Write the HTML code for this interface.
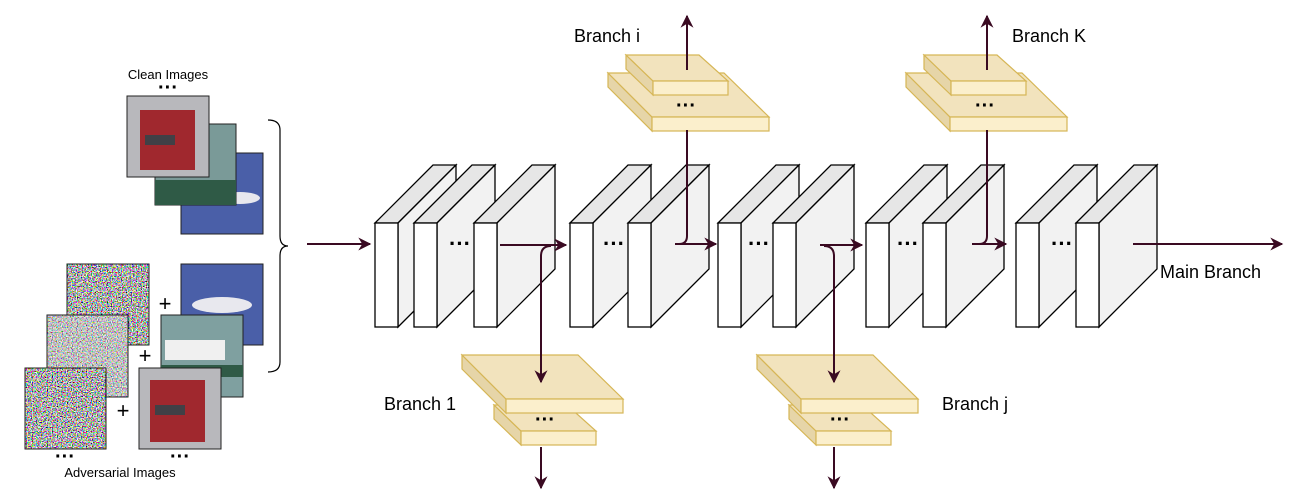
<!DOCTYPE html>
<html><head><meta charset="utf-8"><style>
html,body{margin:0;padding:0;background:#fff;}
svg{display:block}
text{font-family:"Liberation Sans",sans-serif;fill:#000}
</style></head><body>
<svg width="1295" height="494" viewBox="0 0 1295 494" xmlns="http://www.w3.org/2000/svg">
<defs>
<marker id="ah" viewBox="0 0 10 10" refX="9" refY="5" markerWidth="15" markerHeight="13" markerUnits="userSpaceOnUse" orient="auto"><path d="M0,0 L10,5 L0,10 L3,5 Z" fill="#3a0a22"/></marker>
<filter id="nz" x="0" y="0" width="100%" height="100%"><feTurbulence type="fractalNoise" baseFrequency="0.8" numOctaves="1" seed="3"/><feColorMatrix type="matrix" values="4 0 0 0 -1.5  0 4 0 0 -1.5  0 0 4 0 -1.5  0 0 0 0 1"/></filter>
<filter id="nz2" x="0" y="0" width="100%" height="100%"><feTurbulence type="fractalNoise" baseFrequency="0.8" numOctaves="1" seed="8"/><feColorMatrix type="matrix" values="2.5 0 0 0 -0.7  0 2.5 0 0 -0.7  0 0 2.5 0 -0.7  0 0 0 0 1"/></filter>
<g id="blk">
<polygon points="0,223 58,165 81,165 23,223" fill="#e6e6e6" stroke="#000" stroke-width="1.3"/>
<polygon points="23,223 81,165 81,269 23,327" fill="#f2f2f2" stroke="#000" stroke-width="1.3"/>
<rect x="0" y="223" width="23" height="104" fill="#fff" stroke="#000" stroke-width="1.3"/>
</g>
<g id="slab">
<polygon points="0,0 44,44 44,58 0,14" fill="#e6d5a8" stroke="#d6b656" stroke-width="1.2"/>
<polygon points="0,0 116,0 161,44 44,44" fill="#f2e3bd" stroke="#d6b656" stroke-width="1.2"/>
<rect x="44" y="44" width="117" height="14" fill="#fbefcc" stroke="#d6b656" stroke-width="1.2"/>
</g>
<g id="slabS">
<polygon points="0,0 27,26 27,40 0,14" fill="#e6d5a8" stroke="#d6b656" stroke-width="1.2"/>
<polygon points="0,0 73,0 102,26 27,26" fill="#f2e3bd" stroke="#d6b656" stroke-width="1.2"/>
<rect x="27" y="26" width="75" height="14" fill="#fbefcc" stroke="#d6b656" stroke-width="1.2"/>
</g>
</defs>

<text x="168" y="79" font-size="13" text-anchor="middle">Clean Images</text>
<text x="168" y="94" font-size="20" text-anchor="middle" font-weight="bold">···</text>
<rect x="181" y="153" width="82" height="81" fill="#4a5fa8" stroke="#222"/>
<ellipse cx="240" cy="198" rx="20" ry="6" fill="#e8e8ee"/>
<rect x="155" y="124" width="81" height="81" fill="#7a9a98" stroke="#222"/>
<rect x="155" y="180" width="81" height="25" fill="#2f5a46"/>
<rect x="127" y="96" width="82" height="81" fill="#b8b8bc" stroke="#222"/>
<rect x="140" y="110" width="55" height="60" fill="#a0282e"/>
<rect x="145" y="135" width="30" height="10" fill="#404046"/>

<rect x="67" y="264" width="82" height="81" fill="#888" filter="url(#nz)"/><rect x="67" y="264" width="82" height="81" fill="none" stroke="#222"/>
<rect x="47" y="315" width="81" height="82" fill="#888" filter="url(#nz2)"/><rect x="47" y="315" width="81" height="82" fill="none" stroke="#222"/>
<rect x="25" y="368" width="81" height="81" fill="#888" filter="url(#nz)"/><rect x="25" y="368" width="81" height="81" fill="none" stroke="#222"/>

<rect x="181" y="264" width="82" height="81" fill="#4a5fa8" stroke="#222"/>
<ellipse cx="222" cy="305" rx="30" ry="8" fill="#e8e8ee"/>
<rect x="161" y="315" width="82" height="82" fill="#7fa0a0" stroke="#222"/>
<rect x="165" y="340" width="60" height="20" fill="#f0f0f0"/>
<rect x="161" y="365" width="82" height="12" fill="#2f5a46"/>
<rect x="139" y="368" width="82" height="81" fill="#b8b8bc" stroke="#222"/>
<rect x="150" y="380" width="55" height="62" fill="#a0282e"/>
<rect x="155" y="405" width="30" height="10" fill="#404046"/>

<text x="165" y="311" font-size="22" text-anchor="middle">+</text>
<text x="145" y="363" font-size="22" text-anchor="middle">+</text>
<text x="123" y="418" font-size="22" text-anchor="middle">+</text>
<text x="65" y="463" font-size="20" text-anchor="middle" font-weight="bold">···</text>
<text x="180" y="463" font-size="20" text-anchor="middle" font-weight="bold">···</text>
<text x="120" y="477" font-size="13" text-anchor="middle">Adversarial Images</text>

<path d="M268,120 Q280,120 280,130 L280,236 Q280,246 288,246 Q280,246 280,256 L280,362 Q280,372 268,372" fill="none" stroke="#000" stroke-width="1.2"/>

<line x1="307" y1="244" x2="370" y2="244" stroke="#3a0a22" stroke-width="2" marker-end="url(#ah)"/>

<use href="#blk" x="375"/><use href="#blk" x="414"/><use href="#blk" x="474"/>
<use href="#blk" x="570"/><use href="#blk" x="628"/>
<use href="#blk" x="718"/><use href="#blk" x="773"/>
<use href="#blk" x="866"/><use href="#blk" x="923"/>
<use href="#blk" x="1016"/><use href="#blk" x="1076"/>
<g font-size="22" font-weight="bold" text-anchor="middle">
<text x="460" y="251">···</text><text x="614" y="251">···</text><text x="759" y="251">···</text><text x="908" y="251">···</text><text x="1062" y="251">···</text>
</g>

<use href="#slabS" x="494" y="405"/><use href="#slab" x="462" y="355"/>
<use href="#slabS" x="789" y="405"/><use href="#slab" x="757" y="355"/>
<use href="#slab" x="608" y="73"/><use href="#slabS" x="626" y="55"/>
<use href="#slab" x="906" y="73"/><use href="#slabS" x="924" y="55"/>
<g font-size="20" font-weight="bold" text-anchor="middle">
<text x="545" y="426">···</text><text x="840" y="426">···</text><text x="686" y="112">···</text><text x="985" y="112">···</text>
</g>

<g stroke="#3a0a22" stroke-width="2" fill="none">
<line x1="500" y1="245" x2="566" y2="245" marker-end="url(#ah)"/>
<path d="M541,300 L541,256 Q541,246 551,246"/>
<line x1="541" y1="300" x2="541" y2="382" marker-end="url(#ah)"/>
<line x1="541" y1="447" x2="541" y2="488" marker-end="url(#ah)"/>
<line x1="675" y1="244" x2="716" y2="244" marker-end="url(#ah)"/>
<path d="M687,130 L687,236 Q687,244 679,244"/>
<line x1="687" y1="70" x2="687" y2="16" marker-end="url(#ah)"/>
<line x1="820" y1="245" x2="862" y2="245" marker-end="url(#ah)"/>
<path d="M834,300 L834,256 Q834,246 824,246"/>
<line x1="834" y1="300" x2="834" y2="382" marker-end="url(#ah)"/>
<line x1="834" y1="447" x2="834" y2="488" marker-end="url(#ah)"/>
<line x1="972" y1="244" x2="1006" y2="244" marker-end="url(#ah)"/>
<path d="M987,130 L987,236 Q987,244 979,244"/>
<line x1="987" y1="70" x2="987" y2="16" marker-end="url(#ah)"/>
<line x1="1133" y1="244" x2="1282" y2="244" marker-end="url(#ah)"/>
</g>

<g font-size="18">
<text x="574" y="42">Branch i</text>
<text x="1012" y="42">Branch K</text>
<text x="384" y="410">Branch 1</text>
<text x="942" y="410">Branch j</text>
<text x="1160" y="278">Main Branch</text>
</g>
</svg>
</body></html>
